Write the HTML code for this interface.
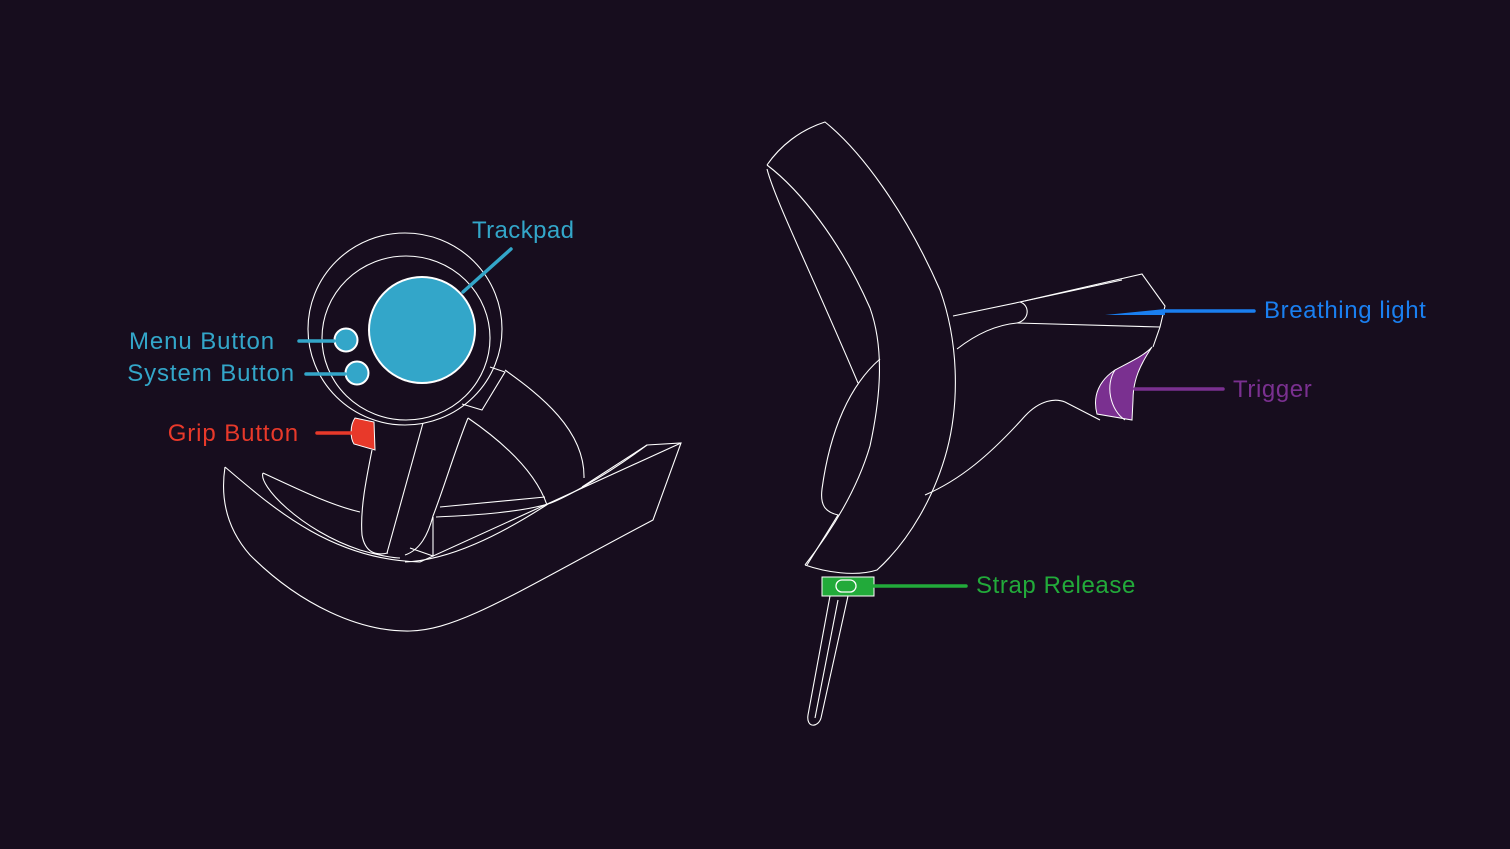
<!DOCTYPE html>
<html><head><meta charset="utf-8"><style>
html,body{margin:0;padding:0;background:#170d1e;}
svg{display:block}
text{font-family:"Liberation Sans",sans-serif;font-size:24px;letter-spacing:0.9px}
</style></head><body>
<svg width="1510" height="849" viewBox="0 0 1510 849" xmlns="http://www.w3.org/2000/svg">
<rect width="1510" height="849" fill="#170d1e"/>
<g fill="none" stroke="#fff" stroke-width="1.1">
<!-- LEFT base -->
<path d="M225,467 C220,500 228,530 250,555 C300,605 360,632 410,631 C460,630 520,590 653,520 L681,443 L647,445 L582,487"/>
<path d="M225,467 C270,505 330,560 420,562 L681,443"/>
<path d="M647,445 C600,480 560,500 548,504 C500,535 450,560 405,562"/>
<path d="M263,473 C258,485 300,530 360,550 C380,556 395,558 400,558"/>
<path d="M263,473 C300,490 330,505 360,512"/>
<!-- wing -->
<path d="M505,370 C540,395 585,430 584,478"/>
<path d="M468,418 C500,440 535,470 547,505"/>
<path d="M440,507 L545,497 M436,517 C480,515 520,512 548,504"/>
<path d="M433,517 L433,556 L410,548"/>
<!-- stem -->
<path d="M372,450 C366,480 360,510 362,535 C365,552 375,556 388,553"/>
<path d="M423,423 L387,553"/>
<path d="M468,418 C455,450 445,485 433,516 C428,535 420,550 405,555"/>
<path d="M490,367 L505,372 L482,410 L462,404"/>
<!-- rings -->
<ellipse cx="405" cy="329" rx="97" ry="96"/>
<ellipse cx="406" cy="338" rx="84" ry="82"/>
<!-- RIGHT controller -->
<path d="M767,165 C780,146 800,130 825,122 C860,150 905,210 940,290 C958,340 960,400 947,450 C935,495 910,540 877,570 C855,577 825,572 805,565"/>
<path d="M767,165 C800,190 840,240 870,308 C885,350 880,400 870,446 C860,480 840,520 805,565"/>
<path d="M767,169 C775,200 810,270 858,383"/>
<path d="M880,359 C850,385 830,430 822,489 C820,505 825,512 838,515 L807,565"/>
<path d="M953,316 L1020,302 L1142,274 L1165,306 L1160,327 L1153,347"/>
<path d="M1020,302 L1122,280"/>
<path d="M1017,323 L1160,327"/>
<path d="M1020,302 C1030,305 1030,320 1017,323"/>
<path d="M957,349 C975,335 995,325 1017,323"/>
<path d="M925,495 C960,480 990,455 1025,416 C1040,400 1055,398 1065,402 L1100,420"/>
<!-- strap stick -->
<path d="M830,596 L808,715 C806,728 818,728 821,718 L848,596"/>
<path d="M838,600 L815,718"/>
</g>
<!-- trackpad & buttons -->
<circle cx="422" cy="330" r="53" fill="#33a6c9" stroke="#fff" stroke-width="2"/>
<circle cx="346" cy="340" r="11.5" fill="#33a6c9" stroke="#fff" stroke-width="2"/>
<circle cx="357" cy="373" r="11.5" fill="#33a6c9" stroke="#fff" stroke-width="2"/>
<g stroke="#33a6c9" stroke-width="3.5" stroke-linecap="round">
<line x1="463" y1="292" x2="511" y2="249"/>
<line x1="299" y1="341" x2="334" y2="341"/>
<line x1="306" y1="374" x2="345" y2="374"/>
</g>
<path d="M355,418 L374,422 L375,450 L354,444 C350,438 350,425 355,418Z" fill="#e8392a" stroke="#fff" stroke-width="1"/>
<line x1="317" y1="433" x2="352" y2="433" stroke="#e8392a" stroke-width="3.5" stroke-linecap="round"/>
<!-- trigger -->
<path d="M1097,414 C1092,395 1100,380 1115,370 C1130,362 1145,355 1152,347 C1140,365 1133,380 1133,400 L1132,420 Z" fill="#7a3090" stroke="#fff" stroke-width="1"/>
<path d="M1115,370 C1105,385 1110,410 1125,420" fill="none" stroke="#fff" stroke-width="1"/>
<line x1="1135" y1="389" x2="1223" y2="389" stroke="#7a3090" stroke-width="3.5" stroke-linecap="round"/>
<!-- breathing light -->
<path d="M1105,315 L1165,309 L1165,315 Z" fill="#1a7ff0"/>
<line x1="1165" y1="311" x2="1254" y2="311" stroke="#1a7ff0" stroke-width="3.5" stroke-linecap="round"/>
<!-- strap -->
<rect x="822" y="577" width="52" height="19" fill="#22aa3a" stroke="#fff" stroke-width="1"/>
<rect x="836" y="580" width="20" height="12" rx="6" fill="none" stroke="#fff" stroke-width="1.3"/>
<line x1="874" y1="586" x2="966" y2="586" stroke="#22aa3a" stroke-width="3.5" stroke-linecap="round"/>
<!-- labels -->
<text x="472" y="238" fill="#33a6c9" style="letter-spacing:0.4px">Trackpad</text>
<text x="275" y="349" fill="#33a6c9" text-anchor="end">Menu Button</text>
<text x="295" y="381" fill="#33a6c9" text-anchor="end">System Button</text>
<text x="299" y="441" fill="#e8392a" text-anchor="end">Grip Button</text>
<text x="1264" y="318" fill="#1a7ff0" style="letter-spacing:0.6px">Breathing light</text>
<text x="1233" y="397" fill="#7a3090" style="letter-spacing:0.6px">Trigger</text>
<text x="976" y="593" fill="#22aa3a" style="letter-spacing:0.6px">Strap Release</text>
</svg>
</body></html>
